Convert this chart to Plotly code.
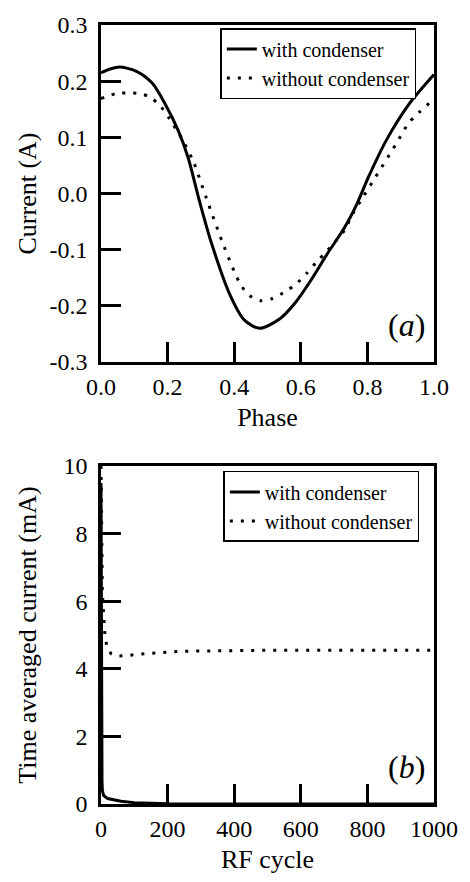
import plotly.graph_objects as go

# ---- Data (a): current vs phase ----
phase_with = [0.0, 0.03, 0.056, 0.105, 0.153, 0.193, 0.232, 0.261, 0.295, 0.33, 0.387, 0.43, 0.476,
              0.535, 0.584, 0.632, 0.681, 0.73, 0.769, 0.803, 0.857, 0.926, 1.0]
current_with = [0.215, 0.222, 0.225, 0.218, 0.197, 0.159, 0.112, 0.065, -0.012, -0.085, -0.18, -0.225, -0.24,
                -0.224, -0.194, -0.153, -0.106, -0.062, -0.018, 0.029, 0.095, 0.160, 0.212]

phase_without = [0.0, 0.046, 0.08, 0.112, 0.146, 0.178, 0.207, 0.246, 0.278, 0.315, 0.37, 0.42, 0.447, 0.481,
                 0.515, 0.549, 0.584, 0.618, 0.647, 0.679, 0.706, 0.73, 0.76, 0.784, 0.823, 0.886, 0.926, 1.0]
current_without = [0.169, 0.178, 0.179, 0.178, 0.172, 0.156, 0.132, 0.094, 0.056, -0.006, -0.095, -0.163, -0.182, -0.191,
                   -0.187, -0.176, -0.162, -0.142, -0.122, -0.102, -0.084, -0.066, -0.032, -0.009, 0.028, 0.088, 0.127, 0.168]

# ---- Data (b): time averaged current vs RF cycle ----
cycle_with = [0, 1, 2, 3, 4, 8, 20, 40, 60, 100, 200, 400, 1000]
avg_with = [9.5, 4.0, 1.5, 0.7, 0.4, 0.25, 0.16, 0.11, 0.08, 0.04, 0.01, 0.0, 0.0]

cycle_without = [0, 1, 2, 4, 6, 8, 10, 12, 19, 30, 46, 75, 120, 240, 500, 1000]
avg_without = [10.0, 8.5, 7.0, 6.3, 5.9, 5.5, 5.2, 4.95, 4.6, 4.45, 4.38, 4.39, 4.44, 4.52, 4.55, 4.55]

labels = ["with condenser", "without condenser"]

# tick labels
xa_vals = [0.0, 0.2, 0.4, 0.6, 0.8, 1.0]
xa_text = ["0.0", "0.2", "0.4", "0.6", "0.8", "1.0"]
ya_vals = [-0.3, -0.2, -0.1, 0.0, 0.1, 0.2, 0.3]
ya_text = ["-0.3", "-0.2", "-0.1", "0.0", "0.1", "0.2", "0.3"]
xb_vals = [0, 200, 400, 600, 800, 1000]
yb_vals = [0, 2, 4, 6, 8, 10]

FONT = "Liberation Serif, Times New Roman, Times, serif"
DOT = "3px,8px"

fig = go.Figure()
fig.add_trace(go.Scatter(x=phase_with, y=current_with, mode="lines", name=labels[0],
                         line=dict(color="black", width=3, shape="spline", smoothing=0.8),
                         xaxis="x", yaxis="y", legend="legend"))
fig.add_trace(go.Scatter(x=phase_without, y=current_without, mode="lines", name=labels[1],
                         line=dict(color="black", width=3, shape="spline", smoothing=0.8, dash=DOT),
                         xaxis="x", yaxis="y", legend="legend"))
fig.add_trace(go.Scatter(x=cycle_with, y=avg_with, mode="lines", name=labels[0],
                         line=dict(color="black", width=3),
                         xaxis="x2", yaxis="y2", legend="legend2"))
fig.add_trace(go.Scatter(x=cycle_without, y=avg_without, mode="lines", name=labels[1],
                         line=dict(color="black", width=3, dash=DOT),
                         xaxis="x2", yaxis="y2", legend="legend2"))

axis_common = dict(showline=True, linecolor="black", linewidth=2.5, mirror=True,
                   ticks="inside", ticklen=20, tickwidth=2.5, tickcolor="black",
                   showgrid=False, zeroline=False,
                   tickfont=dict(family=FONT, size=24, color="black"))

legend_common = dict(bgcolor="white", bordercolor="black", borderwidth=1.5,
                     font=dict(family=FONT, size=20, color="black"),
                     xanchor="right", yanchor="top", tracegroupgap=0,
                     itemwidth=30)

fig.update_layout(
    width=470, height=882,
    margin=dict(l=101, r=28, t=20, b=76),
    paper_bgcolor="white", plot_bgcolor="white",
    font=dict(family=FONT, color="black"),
    xaxis=dict(domain=[0, 1], anchor="y", range=[0, 1], tickvals=xa_vals, ticktext=xa_text,
               ticklabelstandoff=1,
               title=dict(text="Phase", font=dict(family=FONT, size=26), standoff=10),
               **axis_common),
    yaxis=dict(domain=[0.5674, 1], anchor="x", range=[-0.3, 0.3], tickvals=ya_vals, ticktext=ya_text,
               ticklabelstandoff=6,
               title=dict(text="Current (A)", font=dict(family=FONT, size=26), standoff=6),
               **axis_common),
    xaxis2=dict(domain=[0, 1], anchor="y2", range=[0, 1000], tickvals=xb_vals,
                ticktext=[str(v) for v in xb_vals], ticklabelstandoff=1,
                title=dict(text="RF cycle", font=dict(family=FONT, size=26), standoff=10),
                **axis_common),
    yaxis2=dict(domain=[0, 0.4338], anchor="x2", range=[0, 10], tickvals=yb_vals,
                ticktext=[str(v) for v in yb_vals], ticklabelstandoff=6,
                title=dict(text="Time averaged current (mA)", font=dict(family=FONT, size=26), standoff=20),
                **axis_common),
    legend=dict(x=0.947, y=0.996, **legend_common),
    legend2=dict(x=0.956, y=0.4275, **legend_common),
    annotations=[
        dict(text="(<i>a</i>)", x=0.98, y=-0.235, xref="x", yref="y", xanchor="right", yanchor="middle",
             showarrow=False, font=dict(family=FONT, size=32, color="black")),
        dict(text="(<i>b</i>)", x=980, y=1.1, xref="x2", yref="y2", xanchor="right", yanchor="middle",
             showarrow=False, font=dict(family=FONT, size=32, color="black")),
    ],
)

fig.write_html("out.html")
